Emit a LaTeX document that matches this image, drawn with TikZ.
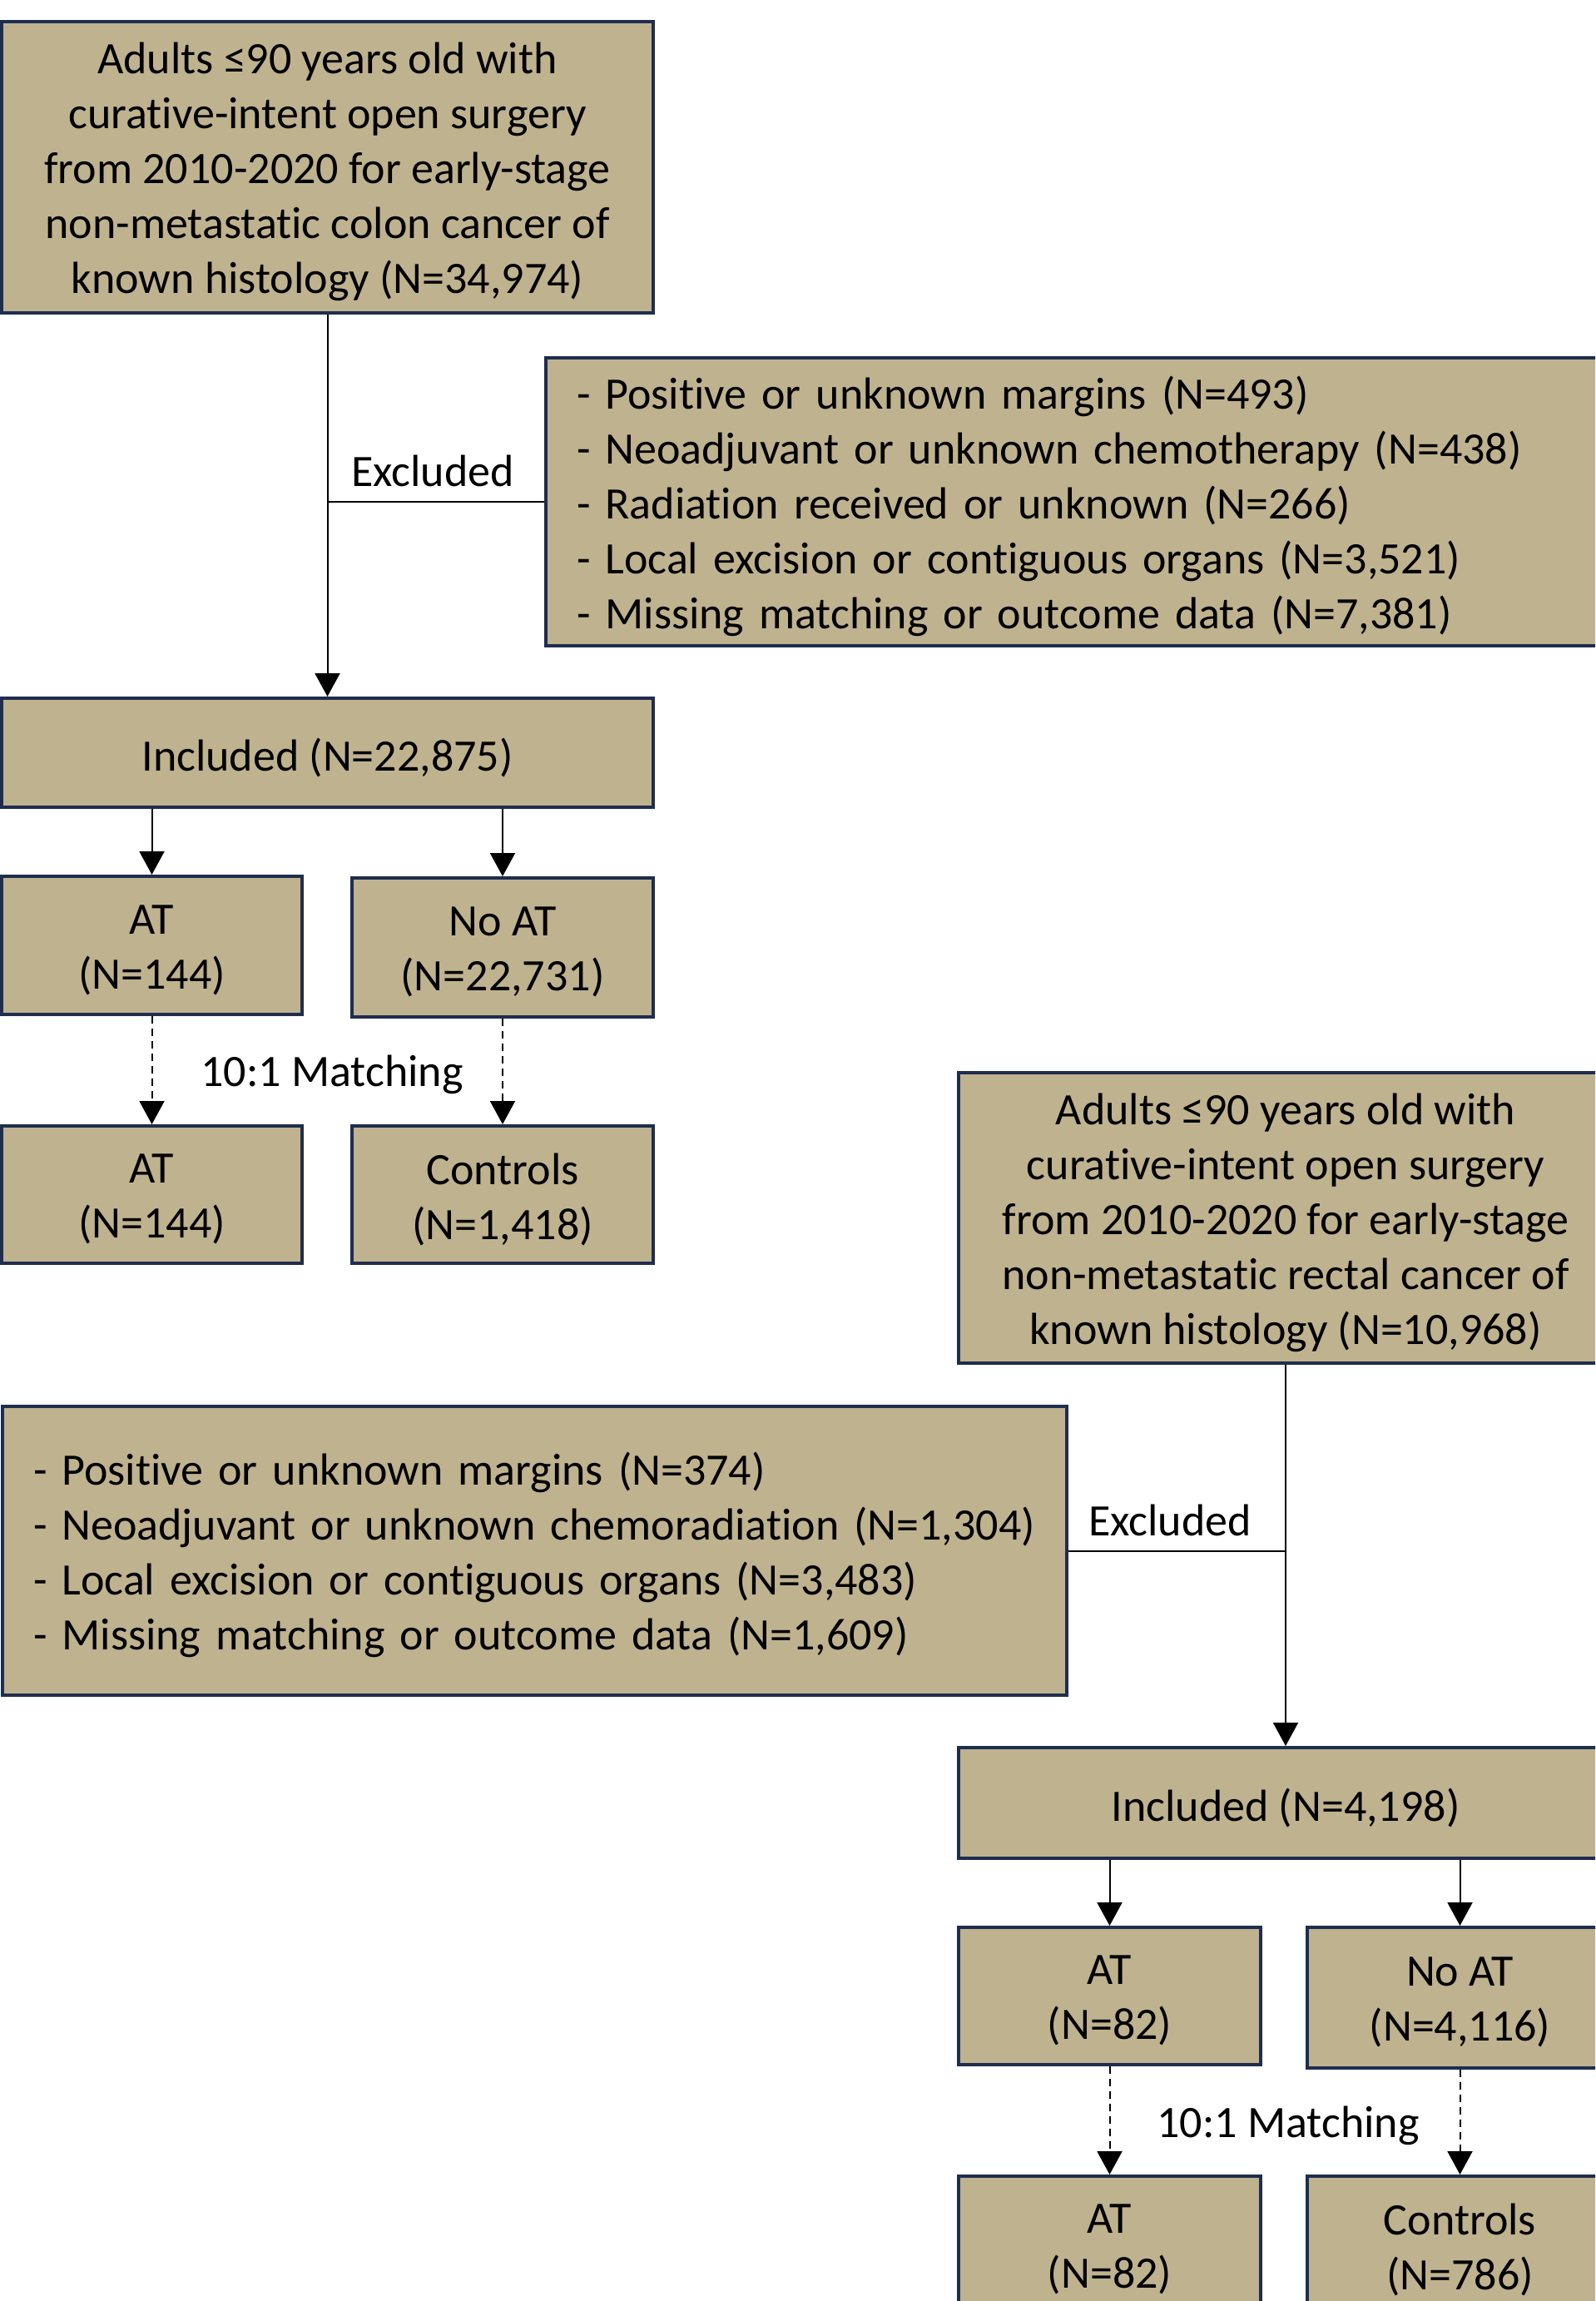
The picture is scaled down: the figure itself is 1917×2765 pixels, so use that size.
\documentclass[tikz,border=0pt]{standalone}
\usepackage{fontspec}
\setmainfont{Carlito}[Ligatures=NoCommon]
\usetikzlibrary{arrows.meta}
\definecolor{boxfill}{RGB}{191,178,143}
\definecolor{boxline}{RGB}{31,45,78}
\begin{document}
\begin{tikzpicture}[x=1pt,y=-1pt,
  box/.style={draw=boxline, fill=boxfill, line width=4pt, inner sep=0pt},
  lbl/.style={font=\fontsize{54}{66}\selectfont, inner sep=0pt},
  boxtext/.style={lbl, align=center, yshift=-5.5pt},
  listtext/.style={lbl, align=left, text width=#1, yshift=-5pt},
  conn/.style={line width=2pt, draw=black},
  arr/.style={conn, -{Triangle[width=30pt,length=28pt]}},
  darr/.style={arr, dash pattern=on 9pt off 6pt}]
\useasboundingbox (0,0) rectangle (1917,2765);
\clip (0,0) rectangle (1917,2765);
\fill[white] (0,0) rectangle (1917,2765);

% ---- colon cancer ----
\node[box, minimum width=783pt, minimum height=350pt,
  label={[boxtext]center:{Adults ≤90 years old with\\curative-intent open surgery\\from 2010-2020 for early-stage\\non-metastatic colon cancer of\\known histology (N=34,974)}}]
  (c0) at (393.5,201) {};
\node[box, minimum width=1284pt, minimum height=346pt, anchor=west,
  label={[listtext=1210pt]center:{- Positive or unknown margins (N=493)\\- Neoadjuvant or unknown chemotherapy (N=438)\\- Radiation received or unknown (N=266)\\- Local excision or contiguous organs (N=3,521)\\- Missing matching or outcome data (N=7,381)}}]
  (cx) at (654,603) {};
\node[box, minimum width=783pt, minimum height=131pt,
  label={[boxtext]center:{Included (N=22,875)}}] (ci) at (393.5,904.5) {};
\node[box, minimum width=361pt, minimum height=166pt,
  label={[boxtext]center:{AT\\(N=144)}}] (ca) at (182.5,1136) {};
\node[box, minimum width=362pt, minimum height=167pt,
  label={[boxtext]center:{No AT\\(N=22,731)}}] (cn) at (604,1138.5) {};
\node[box, minimum width=361pt, minimum height=165pt,
  label={[boxtext]center:{AT\\(N=144)}}] (cam) at (182.5,1435.5) {};
\node[box, minimum width=362pt, minimum height=165pt,
  label={[boxtext]center:{Controls\\(N=1,418)}}] (cc) at (604,1435.5) {};
\node[lbl] (cexl) at (520,566) {Excluded};
\node[lbl] (cm) at (399,1291) {10:1 Matching};

\draw[arr] (c0) -- (ci);
\draw[conn] (cx.west) -- (cx.west -| c0.south);
\draw[arr] (ca.north |- ci.south) -- (ca.north);
\draw[arr] (cn.north |- ci.south) -- (cn.north);
\draw[darr] (ca.south) -- (cam.north);
\draw[darr] (cn.south) -- (cc.north);

% ---- rectal cancer ----
\node[box, minimum width=786pt, minimum height=349pt,
  label={[boxtext]center:{Adults ≤90 years old with\\curative-intent open surgery\\from 2010-2020 for early-stage\\non-metastatic rectal cancer of\\known histology (N=10,968)}}]
  (r0) at (1545,1463.5) {};
\node[box, minimum width=1279pt, minimum height=347pt, anchor=east,
  label={[listtext=1205pt]center:{- Positive or unknown margins (N=374)\\- Neoadjuvant or unknown chemoradiation (N=1,304)\\- Local excision or contiguous organs (N=3,483)\\- Missing matching or outcome data (N=1,609)}}]
  (rx) at (1284,1863.5) {};
\node[box, minimum width=786pt, minimum height=133pt,
  label={[boxtext]center:{Included (N=4,198)}}] (ri) at (1545,2166.5) {};
\node[box, minimum width=363pt, minimum height=165pt,
  label={[boxtext]center:{AT\\(N=82)}}] (ra) at (1333.5,2398.5) {};
\node[box, minimum width=367pt, minimum height=169pt,
  label={[boxtext]center:{No AT\\(N=4,116)}}] (rn) at (1754.5,2400.5) {};
\node[box, minimum width=363pt, minimum height=165pt,
  label={[boxtext]center:{AT\\(N=82)}}] (ram) at (1333.5,2697.5) {};
\node[box, minimum width=367pt, minimum height=165pt,
  label={[boxtext]center:{Controls\\(N=786)}}] (rc) at (1754.5,2697.5) {};
\node[lbl] (rexl) at (1406,1827) {Excluded};
\node[lbl] (rm) at (1548,2554) {10:1 Matching};

\draw[arr] (r0) -- (ri);
\draw[conn] (rx.east) -- (rx.east -| r0.south);
\draw[arr] (ra.north |- ri.south) -- (ra.north);
\draw[arr] (rn.north |- ri.south) -- (rn.north);
\draw[darr] (ra.south) -- (ram.north);
\draw[darr] (rn.south) -- (rc.north);
\end{tikzpicture}
\end{document}
